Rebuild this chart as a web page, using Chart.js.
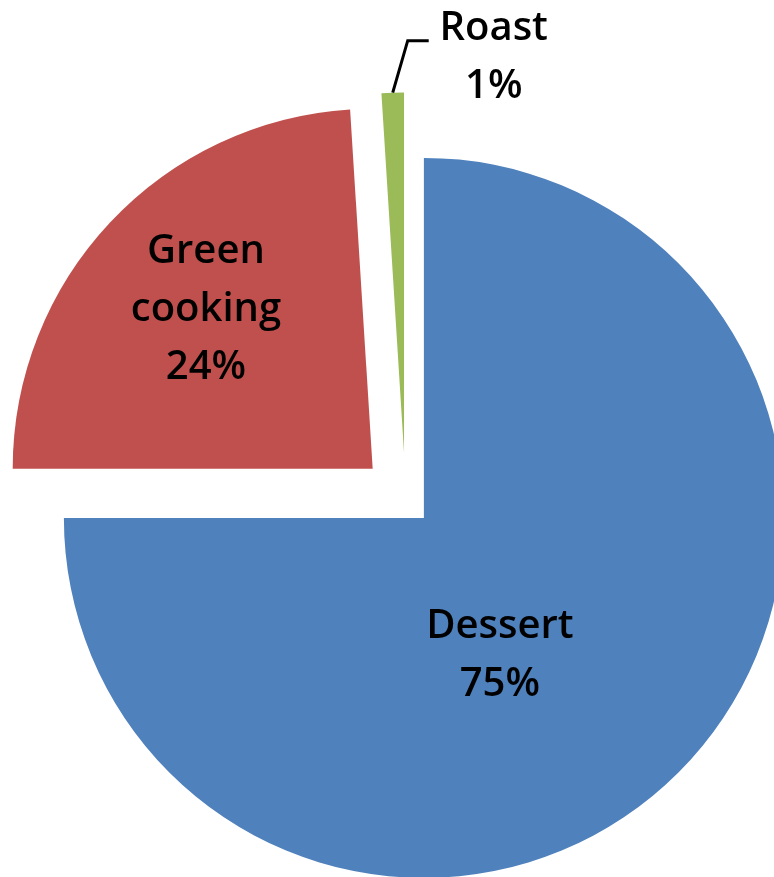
<!DOCTYPE html>
<html>
<head>
<meta charset="utf-8">
<title>Dessert, green cooking and roast</title>
<script src="https://cdn.jsdelivr.net/npm/chart.js@4/dist/chart.umd.min.js"></script>
<style>
  html, body { margin: 0; padding: 0; background: #ffffff; overflow: hidden; }
  #wrap { position: absolute; left: 0; top: 0; width: 774px; height: 877px; overflow: hidden; }
  #pie { position: absolute; left: 0; top: 0; }
</style>
</head>
<body>
<div id="wrap"><canvas id="pie" width="811" height="999"></canvas></div>
<script>
// Share of each use, in percent
const categories = ['Dessert', ['Green', 'cooking'], 'Roast'];
const shares = [75, 24, 1];
const sliceColors = ['#4F81BD', '#C0504D', '#9BBB59'];

// How far each slice is pulled out from the common centre (px)
const explodeDistances = [26, 45, 47];

// Label placement inside a slice: fraction of the radius, and a turn (degrees) from the slice bisector.
// The small slice gets an outside callout instead.
const labelPlacement = [
  { inside: true, radius: 0.43, turn: 15.6 },
  { inside: true, radius: 0.645, turn: 0.9 },
  { inside: false, elbow: [15, -52], run: 21, text: [65, 14.5] }
];

const LABEL_FONT = '600 40px "Open Sans", "Noto Sans", sans-serif';
const LINE_HEIGHT = 58;
const CAP_HALF = 14;

const explodePlugin = {
  id: 'explodeSlices',
  afterDatasetUpdate(chart, args) {
    const meta = args.meta;
    meta.data.forEach((arc, i) => {
      const d = explodeDistances[i] || 0;
      const mid = (arc.startAngle + arc.endAngle) / 2;
      arc.x = arc.x + Math.cos(mid) * d;
      arc.y = arc.y + Math.sin(mid) * d;
    });
  }
};

function drawLines(ctx, lines, cx, cy) {
  const n = lines.length;
  lines.forEach((line, k) => {
    const base = cy + (k - (n - 1) / 2) * LINE_HEIGHT + CAP_HALF;
    ctx.fillText(line, cx, base);
  });
}

const labelPlugin = {
  id: 'sliceLabels',
  afterDatasetsDraw(chart) {
    const ctx = chart.ctx;
    const meta = chart.getDatasetMeta(0);
    const values = chart.data.datasets[0].data;
    const total = values.reduce((a, b) => a + b, 0);
    ctx.save();
    ctx.font = LABEL_FONT;
    ctx.fillStyle = '#000000';
    ctx.textAlign = 'center';
    ctx.textBaseline = 'alphabetic';
    meta.data.forEach((arc, i) => {
      const p = arc.getProps(['x', 'y', 'startAngle', 'endAngle', 'outerRadius'], true);
      const mid = (p.startAngle + p.endAngle) / 2;
      const name = chart.data.labels[i];
      const lines = (Array.isArray(name) ? name.slice() : [name]);
      lines.push(Math.round(values[i] / total * 100) + '%');
      const place = labelPlacement[i];
      if (place.inside) {
        const a = mid + place.turn * Math.PI / 180;
        const r = p.outerRadius * place.radius;
        drawLines(ctx, lines, p.x + Math.cos(a) * r, p.y + Math.sin(a) * r);
      } else {
        const ax = p.x + Math.cos(mid) * p.outerRadius;
        const ay = p.y + Math.sin(mid) * p.outerRadius;
        const ex = ax + place.elbow[0];
        const ey = ay + place.elbow[1];
        const tx = ex + place.run;
        ctx.beginPath();
        ctx.moveTo(ax, ay);
        ctx.lineTo(ex, ey);
        ctx.lineTo(tx, ey);
        ctx.strokeStyle = '#000000';
        ctx.lineWidth = 3;
        ctx.lineJoin = 'miter';
        ctx.stroke();
        drawLines(ctx, lines, tx + place.text[0], ey + place.text[1]);
      }
    });
    ctx.restore();
  }
};

new Chart(document.getElementById('pie'), {
  type: 'pie',
  data: {
    labels: categories,
    datasets: [{
      data: shares,
      backgroundColor: sliceColors,
      borderWidth: 0,
      hoverOffset: 0
    }]
  },
  options: {
    responsive: false,
    animation: false,
    events: [],
    radius: 360,
    layout: { padding: 0 },
    plugins: {
      legend: { display: false },
      tooltip: { enabled: false }
    }
  },
  plugins: [explodePlugin, labelPlugin]
});
</script>
</body>
</html>
